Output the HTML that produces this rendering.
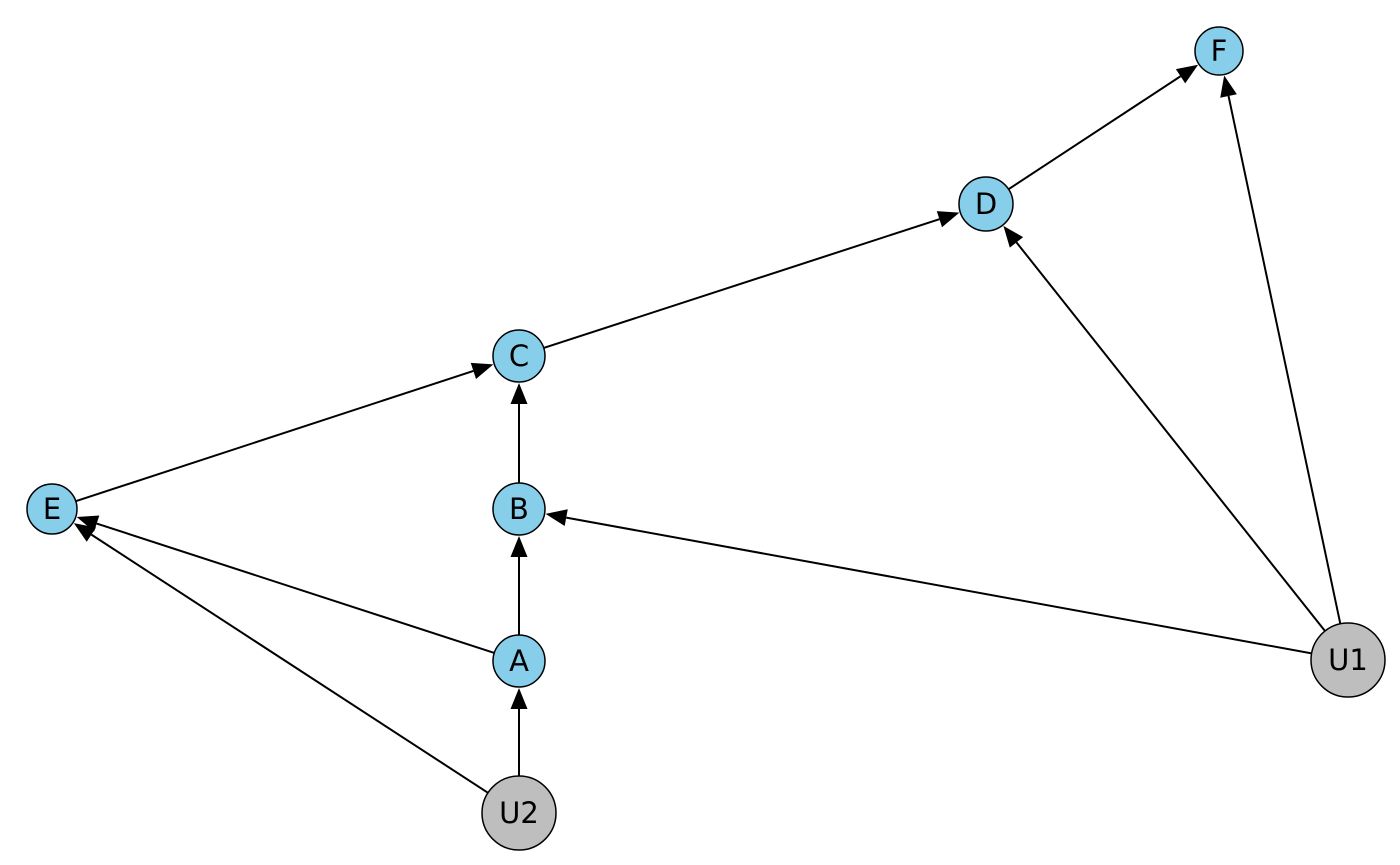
<!DOCTYPE html>
<html><head><meta charset="utf-8"><style>
html,body{margin:0;padding:0;background:#fff;}
svg{display:block;}
text{font-family:"DejaVu Sans",sans-serif;font-size:29px;fill:#000;}
</style></head><body>
<svg id="g" width="1400" height="865" viewBox="0 0 1400 865" xmlns="http://www.w3.org/2000/svg"></svg>
<script>
var N={F:[1219,51,24,'#87ceeb'],D:[986,204,27,'#87ceeb'],C:[519,356,26,'#87ceeb'],E:[52,509,25,'#87ceeb'],B:[519,509,26,'#87ceeb'],A:[519,661,26,'#87ceeb'],U2:[519,813,37,'#bebebe'],U1:[1348,660,37,'#bebebe']};
var Ed=[['U2','A'],['U2','E'],['A','B'],['A','E'],['B','C'],['E','C'],['C','D'],['D','F'],['U1','B'],['U1','D'],['U1','F']];
var s='';
Ed.forEach(function(e){var a=N[e[0]],b=N[e[1]];var dx=b[0]-a[0],dy=b[1]-a[1],L=Math.hypot(dx,dy),ux=dx/L,uy=dy/L;
var sx=a[0]+ux*a[2],sy=a[1]+uy*a[2];var tx=b[0]-ux*(b[2]+1),ty=b[1]-uy*(b[2]+1);var h=21,w=8.5;
var bx=tx-ux*h,by=ty-uy*h;
s+='<line x1="'+sx+'" y1="'+sy+'" x2="'+bx+'" y2="'+by+'" stroke="#000" stroke-width="2"/>';
s+='<polygon points="'+tx+','+ty+' '+(bx-uy*w)+','+(by+ux*w)+' '+(bx+uy*w)+','+(by-ux*w)+'" fill="#000"/>';});
for(var k in N){var n=N[k];s+='<circle cx="'+n[0]+'" cy="'+n[1]+'" r="'+n[2]+'" fill="'+n[3]+'" stroke="#000" stroke-width="1.5"/>';
s+='<text x="'+n[0]+'" y="'+(n[1]+10)+'" text-anchor="middle">'+k+'</text>';}
document.getElementById('g').innerHTML=s;
</script>
</body></html>
